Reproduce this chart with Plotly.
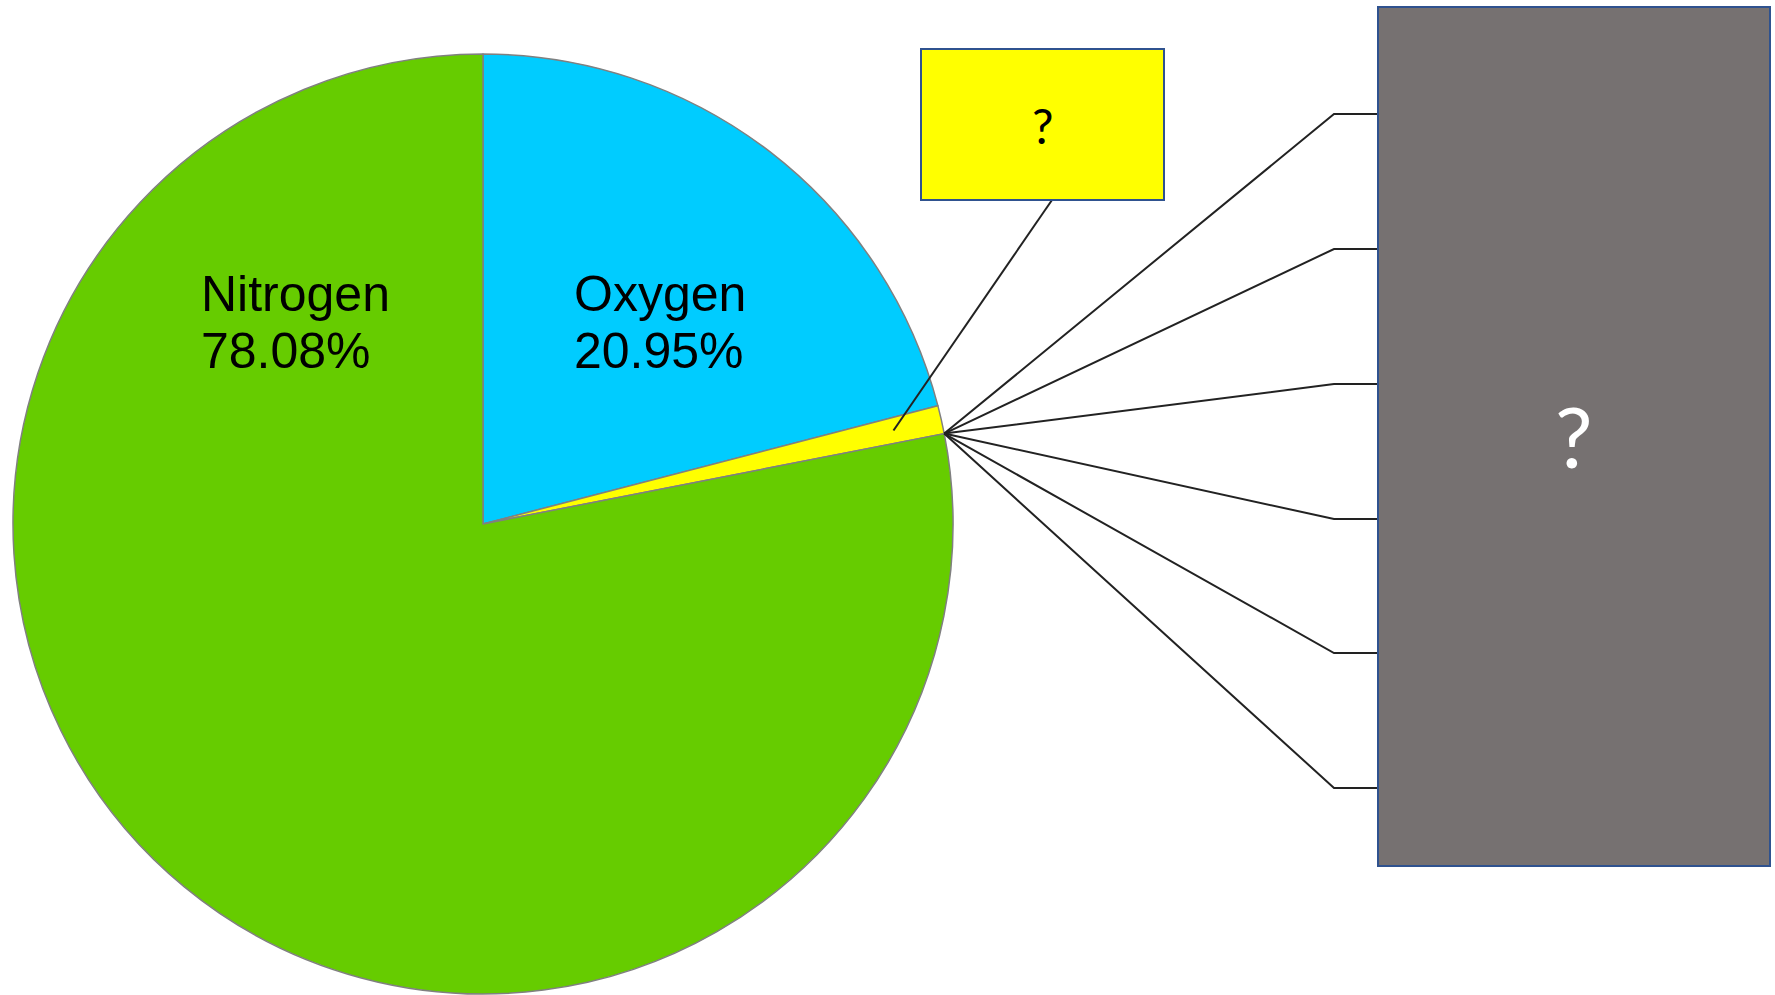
import math
import plotly.graph_objects as go

# Composition of dry air (percent by volume)
gases = ["Oxygen", "Other gases", "Nitrogen"]
percent = [20.95, 0.97, 78.08]
slice_colors = ["#00CCFF", "#FFFF00", "#66CC00"]
pie_labels = ["Oxygen", "Nitrogen"]
pie_values = ["20.95%", "78.08%"]

W, H = 1775, 995

# pie geometry in pixels
CX, CY, R = 483, 524, 470

fig = go.Figure()

fig.add_trace(go.Pie(
    labels=gases,
    values=percent,
    sort=False,
    direction="clockwise",
    rotation=0,
    marker=dict(colors=slice_colors, line=dict(color="#808080", width=1.5)),
    textinfo="none",
    hoverinfo="label+percent",
    showlegend=False,
    domain=dict(x=[(CX - R) / W, (CX + R) / W],
                y=[(H - CY - R) / H, (H - CY + R) / H]),
))

# angles (clockwise from 12 o'clock) of the small "other gases" slice
total = sum(percent)
a0 = percent[0] / total * 2 * math.pi
a1 = (percent[0] + percent[1]) / total * 2 * math.pi
amid = (a0 + a1) / 2


def polar(angle, radius):
    return CX + radius * math.sin(angle), CY - radius * math.cos(angle)


line_style = dict(color="#222222", width=2)
shapes = []

# fan of connectors from the slice edge to the grey box
fan_x, fan_y = polar(a1, R)
elbow_x = 1334
gray_box = dict(x0=1378, y0=7, x1=1770, y1=866)
fan_targets = [114, 249, 384, 519, 653, 788]
for ty in fan_targets:
    shapes.append(dict(
        type="path", xref="x", yref="y", layer="above", line=line_style,
        path=f"M {fan_x:.1f} {fan_y:.1f} L {elbow_x} {ty} L {gray_box['x0']} {ty}",
    ))

# leader from the yellow callout down into the slice
yellow_box = dict(x0=921, y0=49, x1=1164, y1=200)
lx, ly = polar(amid, 421)
shapes.append(dict(type="line", xref="x", yref="y", layer="above", line=line_style,
                   x0=1052, y0=yellow_box["y1"], x1=lx, y1=ly))

shapes += [
    dict(type="rect", xref="x", yref="y", layer="above",
         fillcolor="#FFFF00", line=dict(color="#2F528F", width=2), **yellow_box),
    dict(type="rect", xref="x", yref="y", layer="above",
         fillcolor="#767171", line=dict(color="#2F528F", width=2), **gray_box),
]

annotations = []
label_font = dict(family="Liberation Sans, Arial", size=50, color="#000000")
label_pos = {"Nitrogen": 199, "Oxygen": 572}
for name, val in zip(pie_labels, pie_values):
    x = label_pos[name]
    annotations.append(dict(x=x, y=294, xref="x", yref="y", text=name,
                            showarrow=False, xanchor="left", yanchor="middle",
                            font=label_font))
    annotations.append(dict(x=x, y=351, xref="x", yref="y", text=val,
                            showarrow=False, xanchor="left", yanchor="middle",
                            font=label_font))

annotations.append(dict(x=(yellow_box["x0"] + yellow_box["x1"]) / 2, y=125, xref="x", yref="y",
                        text="?", showarrow=False, xanchor="center", yanchor="middle",
                        font=dict(family="Lato, Noto Sans", size=48, color="#000000")))
annotations.append(dict(x=(gray_box["x0"] + gray_box["x1"]) / 2, y=435, xref="x", yref="y",
                        text="?", showarrow=False, xanchor="center", yanchor="middle",
                        font=dict(family="Lato, Noto Sans", size=84, color="#FFFFFF")))

fig.update_layout(
    width=W, height=H,
    margin=dict(l=0, r=0, t=0, b=0),
    paper_bgcolor="#FFFFFF", plot_bgcolor="rgba(0,0,0,0)",
    xaxis=dict(range=[0, W], visible=False, domain=[0, 1], fixedrange=True),
    yaxis=dict(range=[H, 0], visible=False, domain=[0, 1], fixedrange=True),
    shapes=shapes,
    annotations=annotations,
)

fig.write_html("out.html")
